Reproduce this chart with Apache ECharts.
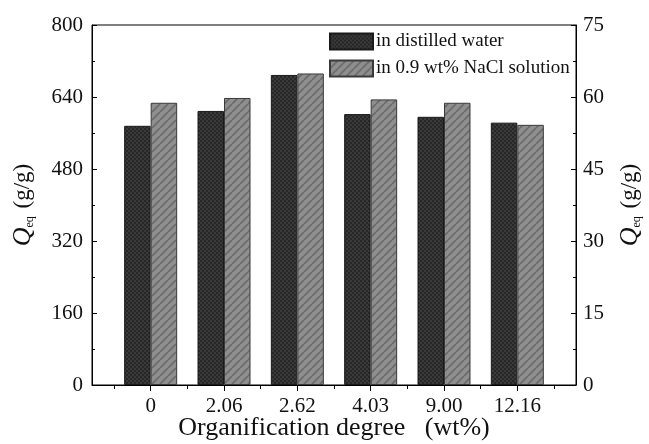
<!DOCTYPE html>
<html>
<head>
<meta charset="utf-8">
<script src="https://cdn.jsdelivr.net/npm/echarts@6/dist/echarts.min.js"></script>
<style>
  html, body { margin: 0; padding: 0; background: #fff; }
  #chart { width: 649px; height: 444px; }
</style>
</head>
<body>
<div id="chart"></div>
<script>
// Organification degree (wt%) categories
const categories = ['0', '2.06', '2.62', '4.03', '9.00', '12.16'];
// Equilibrium swelling in distilled water (left axis, g/g)
const distilledWater = [576, 609, 689, 602, 596, 583];
// Equilibrium swelling in 0.9 wt% NaCl solution (right axis, g/g)
const salineSolution = [58.8, 59.8, 64.9, 59.5, 58.8, 54.2];
// Axis ranges and tick steps
const leftAxisRange = [0, 800, 160];
const rightAxisRange = [0, 75, 15];

const SERIF = '"Liberation Serif", "DejaVu Serif", serif';

// Fine dotted texture for the dark bars
function darkPattern() {
  const c = document.createElement('canvas');
  c.width = 4; c.height = 4;
  const g = c.getContext('2d');
  g.fillStyle = '#3a3a3a';
  g.fillRect(0, 0, 4, 4);
  g.fillStyle = '#272727';
  g.fillRect(0, 0, 2, 2);
  g.fillRect(2, 2, 2, 2);
  return c;
}

// Diagonal hatching for the grey bars
function hatchPattern() {
  const s = 8;
  const c = document.createElement('canvas');
  c.width = s; c.height = s;
  const g = c.getContext('2d');
  g.fillStyle = '#8f8f8f';
  g.fillRect(0, 0, s, s);
  g.strokeStyle = '#6c6c6c';
  g.lineWidth = 1.8;
  g.beginPath();
  for (let k = -1; k <= 1; k++) {
    g.moveTo(k * s, s);
    g.lineTo(k * s + s, 0);
  }
  g.stroke();
  return c;
}

const xPos = categories.map((_, i) => i + 1);
const halfTicks = [0.5, 1.5, 2.5, 3.5, 4.5, 5.5, 6.5];

const chart = echarts.init(document.getElementById('chart'), null, { renderer: 'canvas' });

const nameRich = {
  q: { fontFamily: SERIF, fontStyle: 'italic', fontSize: 26, color: '#111', verticalAlign: 'middle' },
  s: { fontFamily: SERIF, fontSize: 12, color: '#111', verticalAlign: 'bottom', padding: [0, 2, 0, 0] },
  t: { fontFamily: SERIF, fontSize: 23, color: '#111', verticalAlign: 'middle' }
};

chart.setOption({
  animation: false,
  backgroundColor: '#fff',
  grid: {
    left: 92, right: 73, top: 25, bottom: 59,
    outerBoundsMode: 'none',
    containLabel: false,
    show: true, borderColor: '#000', borderWidth: 1, backgroundColor: 'transparent'
  },
  legend: {
    orient: 'vertical',
    left: 329, top: 32,
    icon: 'rect',
    itemWidth: 43, itemHeight: 16, itemGap: 8,
    padding: 0,
    textStyle: { fontFamily: SERIF, fontSize: 19, color: '#111', padding: [0, 0, 0, -2] },
    data: ['in distilled water', 'in 0.9 wt% NaCl solution']
  },
  xAxis: [
    {
      type: 'value',
      min: 0.2, max: 6.8,
      position: 'bottom',
      name: 'Organification degree   (wt%)',
      nameLocation: 'middle',
      nameMoveOverlap: false,
      nameGap: 43,
      nameTextStyle: { fontFamily: SERIF, fontSize: 26, color: '#111', verticalAlign: 'middle', lineHeight: 26 },
      axisLine: { show: true, lineStyle: { color: '#000', width: 1 } },
      axisTick: { show: true, inside: false, length: 6, customValues: xPos, lineStyle: { color: '#000' } },
      axisLabel: {
        show: true, margin: 11, customValues: xPos,
        fontFamily: SERIF, fontSize: 21, color: '#111',
        formatter: v => categories[Math.round(v) - 1]
      },
      splitLine: { show: false }
    },
    {
      type: 'value',
      min: 0.2, max: 6.8,
      position: 'bottom',
      axisLine: { show: false },
      axisTick: { show: true, inside: false, length: 4, customValues: halfTicks, lineStyle: { color: '#000' } },
      axisLabel: { show: false },
      splitLine: { show: false }
    }
  ],
  yAxis: [
    {
      type: 'value',
      position: 'left',
      min: leftAxisRange[0], max: leftAxisRange[1], interval: leftAxisRange[2],
      name: '{q|Q}{s|eq}{t| (g/g)}',
      nameLocation: 'middle',
      nameRotate: 90,
      nameGap: 56,
      nameTextStyle: { rich: nameRich },
      axisLine: { show: true, lineStyle: { color: '#000', width: 1 } },
      axisTick: { show: true, inside: true, length: 5, lineStyle: { color: '#000' } },
      minorTick: { show: true, splitNumber: 2, length: 3, lineStyle: { color: '#000' } },
      axisLabel: { margin: 9, fontFamily: SERIF, fontSize: 21, color: '#111' },
      splitLine: { show: false }
    },
    {
      type: 'value',
      position: 'right',
      min: rightAxisRange[0], max: rightAxisRange[1], interval: rightAxisRange[2],
      name: '{q|Q}{s|eq}{t| (g/g)}',
      nameLocation: 'middle',
      nameRotate: 90,
      nameGap: 41,
      nameTextStyle: { rich: nameRich },
      axisLine: { show: true, lineStyle: { color: '#000', width: 1 } },
      axisTick: { show: true, inside: true, length: 5, lineStyle: { color: '#000' } },
      minorTick: { show: true, splitNumber: 2, length: 3, lineStyle: { color: '#000' } },
      axisLabel: { margin: 7, fontFamily: SERIF, fontSize: 21, color: '#111' },
      splitLine: { show: false }
    }
  ],
  series: [
    {
      name: 'in distilled water',
      type: 'bar',
      xAxisIndex: 0,
      yAxisIndex: 0,
      barWidth: 26.5,
      barGap: '0%',
      itemStyle: {
        color: { image: darkPattern(), repeat: 'repeat' },
        borderColor: '#1a1a1a',
        borderWidth: 1
      },
      data: xPos.map((x, i) => [x, distilledWater[i]])
    },
    {
      name: 'in 0.9 wt% NaCl solution',
      type: 'bar',
      xAxisIndex: 0,
      yAxisIndex: 1,
      barWidth: 26.5,
      barGap: '0%',
      itemStyle: {
        color: { image: hatchPattern(), repeat: 'repeat' },
        borderColor: '#3a3a3a',
        borderWidth: 1
      },
      data: xPos.map((x, i) => [x, salineSolution[i]])
    }
  ]
});
</script>
</body>
</html>
